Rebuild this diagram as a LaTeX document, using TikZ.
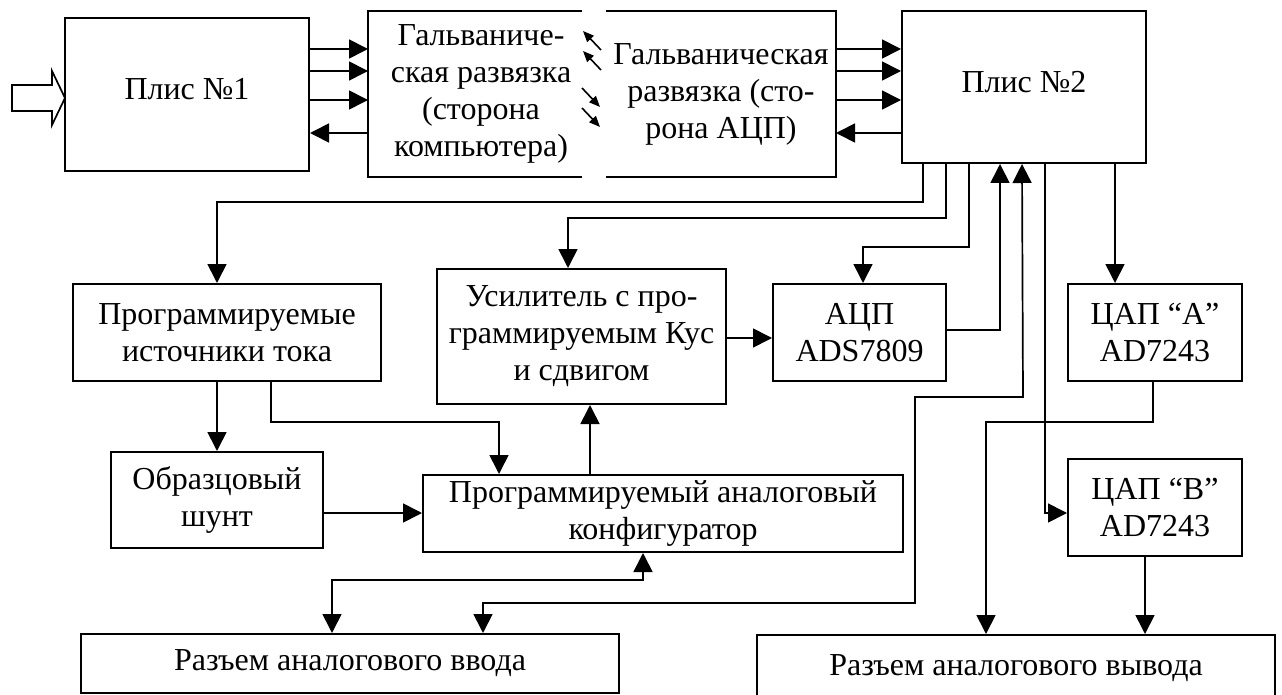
\documentclass[tikz,border=0pt]{standalone}
\usepackage{fontspec}
\setmainfont{Liberation Serif}
\usetikzlibrary{arrows.meta,calc}
\begin{document}
\begin{tikzpicture}[x=1pt,y=-1pt,
  box/.style={draw,line width=2pt,inner sep=0pt,align=center,font=\fontsize{32}{37}\selectfont},
  txt/.style={inner sep=0pt,align=center,font=\fontsize{32}{37}\selectfont},
  shell/.style={inner sep=0pt,outer sep=0pt},
  link/.style={line width=1.7pt,-{Triangle[length=19pt,width=19pt]}},
  both/.style={line width=1.7pt,{Triangle[length=19pt,width=19pt]}-{Triangle[length=19pt,width=19pt]}},
  wire/.style={line width=1.7pt},
  iso/.style={line width=2.7pt},
  spark/.style={line width=1.6pt,-{Triangle[length=11pt,width=9pt]}},
]
\useasboundingbox (0,0) rectangle (1282,695);
\clip (0,0) rectangle (1282,695);

% ---- blocks ----
\node[box,minimum width=244pt,minimum height=153pt,text depth=12pt] (plis1) at (187,94.5) {Плис №1};
\node[shell,minimum width=214pt,minimum height=166pt] (galv1) at (475,94) {};
\node[txt] (galv1txt) at ([xshift=6pt]galv1.center) {Гальваниче-\\ская развязка\\(сторона\\компьютера)};
\node[shell,minimum width=230pt,minimum height=166pt] (galv2) at (721,94) {};
\node[txt] (galv2txt) at (galv2.center) {Гальваническая\\развязка (сто-\\рона АЦП)};
\node[box,minimum width=244pt,minimum height=152pt,text depth=10pt] (plis2) at (1024,87) {Плис №2};

\node[box,minimum width=308pt,minimum height=97pt] (pit) at (227,332.5) {Программируемые\\источники тока};
\node[box,minimum width=289pt,minimum height=135pt] (amp) at (581.5,336.5) {Усилитель с про-\\граммируемым Кус\\и сдвигом};
\node[box,minimum width=173pt,minimum height=97pt] (adc) at (859.5,332.5) {АЦП\\ADS7809};
\node[box,minimum width=174pt,minimum height=97pt] (daca) at (1155,332.5) {ЦАП “A”\\AD7243};
\node[box,minimum width=212pt,minimum height=96pt] (shunt) at (217,500) {Образцовый\\шунт};
\node[box,minimum width=480pt,minimum height=77pt] (conf) at (663,513.5) {Программируемый аналоговый\\конфигуратор};
\node[box,minimum width=174pt,minimum height=97pt] (dacb) at (1155,507.5) {ЦАП “B”\\AD7243};
\node[box,minimum width=538pt,minimum height=59pt] (inbox) at (350,663.5) {Разъем аналогового ввода};
\node[box,minimum width=518pt,minimum height=66pt] (outbox) at (1016,668) {Разъем аналогового вывода};

% ---- galvanic isolation halves (open towards each other) ----
\draw[iso] (galv1.north east) -- (galv1.north west) -- (galv1.south west) -- (galv1.south east);
\draw[iso] (galv2.north west) -- (galv2.north east) -- (galv2.south east) -- (galv2.south west);

% coupling across the isolation gap
\draw[spark] (601,50) -- (583,31);
\draw[spark] (601,70) -- (583,51);
\draw[spark] (582,88) -- (600,107);
\draw[spark] (582,108) -- (600,127);

% ---- input block arrow ----
\draw[wire,line join=miter] (12,85) -- (52,85) -- (52,71) -- (65,98) -- (52,125) -- (52,111) -- (12,111) -- cycle;

% ---- buses between FPGAs and isolation ----
\foreach \d in {45.5,23.5,-5.5}
  \draw[link] ([yshift=\d pt]plis1.east) -- ([yshift=\d pt]plis1.east -| galv1.west);
\draw[link] ([yshift=-38.5pt]plis1.east -| galv1.west) -- ([yshift=-38.5pt]plis1.east);
\foreach \d in {45,23,-6}
  \draw[link] ([yshift=\d pt]galv2.east) -- ([yshift=\d pt]galv2.east -| plis2.west);
\draw[link] ([yshift=-39pt]galv2.east -| plis2.west) -- ([yshift=-39pt]galv2.east);

% ---- control lines from FPGA 2 ----
\draw[link] ([xshift=22pt]plis2.south west) -- ++(0,38) -| ([xshift=-10pt]pit.north);
\draw[link] ([xshift=45pt]plis2.south west) -- ++(0,54) -| ([xshift=-13.5pt]amp.north);
\draw[link] ([xshift=68pt]plis2.south west) -- ++(0,83) -| ([xshift=3.5pt]adc.north);
\draw[link] ([yshift=2.5pt]adc.east) -| ([xshift=99pt]plis2.south west);
\draw[both] ([xshift=133pt]inbox.north) -- ++(0,-30) -- ++(432,0) -- ++(0,-206) -- ++(108,0) -- ([xshift=121pt]plis2.south west);
\draw[link] ([xshift=144pt]plis2.south west) |- ([yshift=-5.5pt]dacb.west);
\draw[link] ([xshift=-40pt]daca.north |- plis2.south) -- ([xshift=-40pt]daca.north);

% ---- analog path ----
\draw[link] ([xshift=-2pt]daca.south) -- ++(0,40) -| ([xshift=-30pt]outbox.north);
\draw[link] ([xshift=-10pt]dacb.south) -- ([xshift=-10pt]dacb.south |- outbox.north);
\draw[link] ([yshift=-1.5pt]amp.east) -- ([yshift=-1.5pt]amp.east -| adc.west);
\draw[link] (shunt.north |- pit.south) -- (shunt.north);
\draw[link] ([xshift=44pt]pit.south) -- ++(0,40) -| ([xshift=-164pt]conf.north);
\draw[link] ([yshift=-13pt]shunt.east) -- ([yshift=-13pt]shunt.east -| conf.west);
\draw[link] ([xshift=8.5pt]amp.south |- conf.north) -- ([xshift=8.5pt]amp.south);
\draw[both] ([xshift=-18pt]inbox.north) -- ++(0,-53) -| ([xshift=-20pt]conf.south);
\end{tikzpicture}
\end{document}
